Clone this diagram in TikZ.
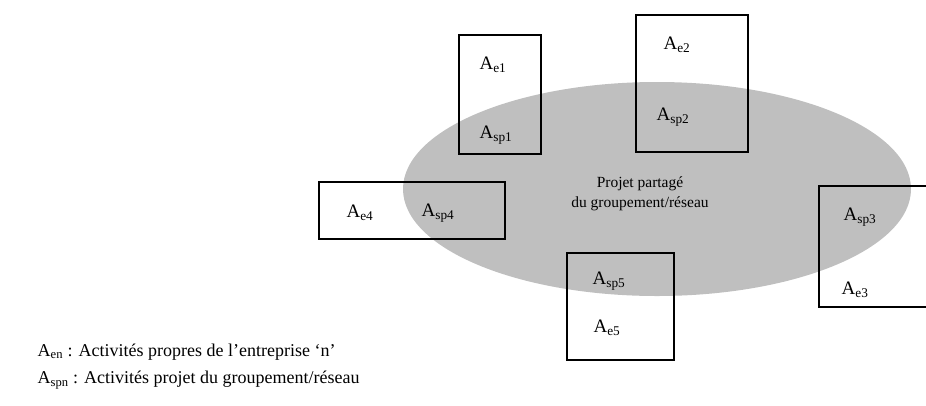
\documentclass[tikz,border=0pt]{standalone}
\usepackage{fontspec}
\setmainfont{Liberation Serif}
\begin{document}
\begin{tikzpicture}[x=1pt,y=-1pt,line width=1.4pt]
  \tikzset{
    act/.style={font=\fontsize{19}{22}\selectfont,inner sep=0pt},
    legend/.style={font=\fontsize{18}{22}\selectfont,inner sep=0pt,anchor=west}
  }
  \useasboundingbox (0,0) rectangle (926,405);
  % shared project
  \fill[black!25] (657,189) ellipse (254pt and 107pt);
  \node[font=\fontsize{15.5}{20}\selectfont,inner sep=0pt,align=center] (projet) at (640,194) {Projet partag\'e\\du groupement/r\'eseau};
  % one box per firm
  \draw (459,35) rectangle (541,154);
  \draw (636,15) rectangle (748,152);
  \draw (819,186) rectangle (940,307);
  \draw (319,182) rectangle (505,239);
  \draw (567,253) rectangle (674,360);
  \node[act] (e1) at (493,65) {A\textsubscript{e1}};
  \node[act] (sp1) at (496,135) {A\textsubscript{sp1}};
  \node[act] (e2) at (677,45) {A\textsubscript{e2}};
  \node[act] (sp2) at (673,117) {A\textsubscript{sp2}};
  \node[act] (sp3) at (860,217) {A\textsubscript{sp3}};
  \node[act] (e3) at (855,290) {A\textsubscript{e3}};
  \node[act] (e4) at (360,213) {A\textsubscript{e4}};
  \node[act] (sp4) at (438,213) {A\textsubscript{sp4}};
  \node[act] (sp5) at (609,281) {A\textsubscript{sp5}};
  \node[act] (e5) at (607,328) {A\textsubscript{e5}};
  % legend
  \node[legend] (len) at (37,352) {A\textsubscript{en} : Activit\'es propres de l'entreprise ‘n’};
  \node[legend] (lspn) at (37,380) {A\textsubscript{spn} : Activit\'es projet du groupement/r\'eseau};
\end{tikzpicture}
\end{document}
